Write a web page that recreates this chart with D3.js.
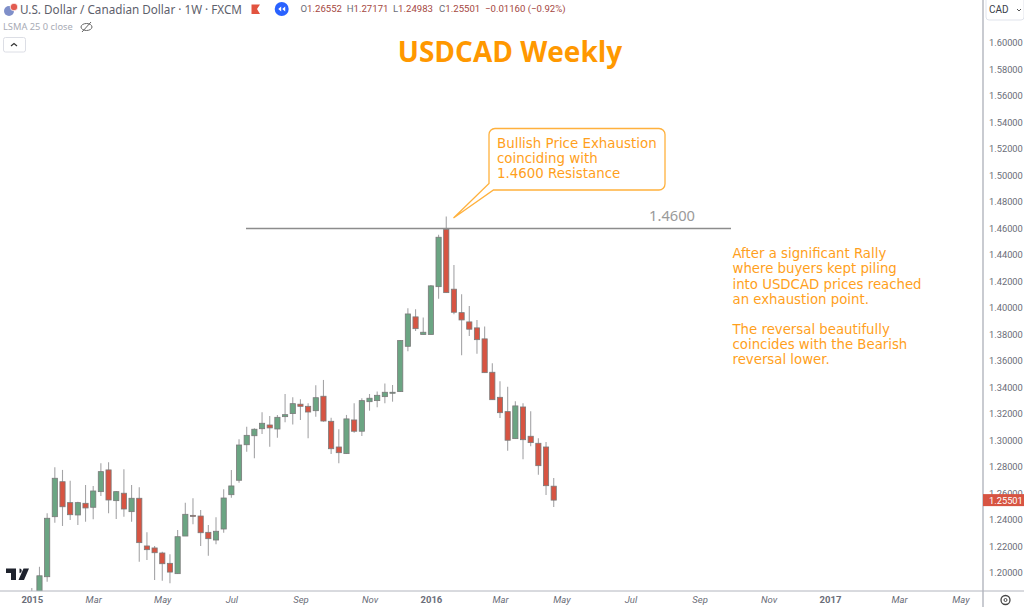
<!DOCTYPE html>
<html>
<head>
<meta charset="utf-8">
<script src="https://cdnjs.cloudflare.com/ajax/libs/d3/7.8.5/d3.min.js"></script>
<style>
  html, body { margin: 0; background: #fff; overflow: hidden; }
  svg { display: block; font-family: "Noto Sans", sans-serif; }
</style>
</head>
<body>
<svg id="chart" width="1024" height="607"></svg>
<script>
// weekly candles. week 0 is the "2015" tick
const opens = [1.172,1.170,1.1972,1.2425,1.2689,1.2531,1.2438,1.2526,1.2496,1.2614,1.2778,1.2546,1.2602,1.2463,1.2564,1.2204,1.2189,1.2151,1.2073,1.1995,1.2279,1.2435,1.2430,1.2307,1.2249,1.2332,1.2591,1.2700,1.2968,1.3036,1.3089,1.3117,1.3087,1.3180,1.3203,1.3274,1.3258,1.3225,1.3334,1.3145,1.2951,1.2901,1.3155,1.3070,1.3293,1.3301,1.3331,1.3357,1.3369,1.3711,1.3933,1.3800,1.3800,1.4161,1.4594,1.4142,1.3965,1.3895,1.3850,1.3767,1.3515,1.3326,1.3218,1.3014,1.3253,1.3032,1.2979,1.2951,1.26552];
const highs = [1.1887,1.2047,1.2451,1.2798,1.2778,1.2697,1.2538,1.2664,1.2657,1.2828,1.2836,1.2619,1.2783,1.2664,1.2647,1.2307,1.2204,1.2161,1.2141,1.2325,1.2531,1.2564,1.2476,1.2362,1.2420,1.2632,1.2778,1.3009,1.3104,1.3092,1.3213,1.3185,1.3193,1.3351,1.3326,1.3311,1.3281,1.3417,1.3457,1.3172,1.3085,1.3193,1.3281,1.3319,1.3351,1.3369,1.3431,1.3419,1.3759,1.3998,1.3991,1.3929,1.4174,1.4552,1.4690,1.4325,1.4104,1.4016,1.3910,1.3860,1.3583,1.3447,1.3406,1.3296,1.3281,1.3221,1.3017,1.2989,1.27171];
const lows = [1.165,1.160,1.1934,1.2380,1.2355,1.2400,1.2362,1.2387,1.2405,1.2581,1.2451,1.2408,1.2425,1.2387,1.2085,1.2098,1.1947,1.1942,1.1922,1.1992,1.2279,1.2368,1.2204,1.2130,1.2217,1.2304,1.2568,1.2682,1.2916,1.2866,1.3049,1.2953,1.3021,1.3138,1.3120,1.3155,1.3017,1.3180,1.3142,1.2898,1.2828,1.2898,1.3059,1.3034,1.3225,1.3251,1.3281,1.3293,1.3366,1.3674,1.3827,1.3800,1.3800,1.4069,1.4116,1.3953,1.3643,1.3789,1.3655,1.3512,1.3308,1.3170,1.2923,1.3014,1.2858,1.2956,1.2742,1.2589,1.24983];
const closes = [1.182,1.1979,1.2413,1.2715,1.2500,1.2440,1.2531,1.2491,1.2619,1.2765,1.2551,1.2614,1.2483,1.2564,1.2229,1.2176,1.2153,1.2070,1.2007,1.2274,1.2443,1.2431,1.2304,1.2259,1.2315,1.2566,1.2657,1.2966,1.3039,1.3085,1.3130,1.3095,1.3175,1.3195,1.3278,1.3258,1.3215,1.3323,1.3147,1.2938,1.2908,1.3163,1.3070,1.3301,1.3319,1.3341,1.3364,1.3364,1.3754,1.3955,1.3844,1.3817,1.4167,1.4534,1.4116,1.3968,1.3910,1.3840,1.3761,1.3512,1.3308,1.3210,1.3002,1.3261,1.3006,1.2984,1.2810,1.2659,1.25501];

const timeTickWeeks = [0,8,17,26,35,44,52,61,69,78,87,96,104,113,121];
const timeTickLabels = ['2015','Mar','May','Jul','Sep','Nov','2016','Mar','May','Jul','Sep','Nov','2017','Mar','May'];
const yearLabels = ['2015','2016','2017'];
const priceTicks = d3.range(1.20, 1.6001, 0.02);
const lastPrice = 1.25501;
const resistance = 1.46;
const ohlcLabels = [['O','1.26552'],['H','1.27171'],['L','1.24983'],['C','1.25501']];
const changeLabel = '\u22120.01160 (\u22120.92%)';
const calloutLines = ['Bullish Price Exhaustion','coinciding with','1.4600 Resistance'];
const noteLines = ['After a significant Rally','where buyers kept piling','into USDCAD prices reached','an exhaustion point.','','The reversal beautifully','coincides with the Bearish','reversal lower.'];

const upColor = '#6ba583', downColor = '#d75442';
const orange = '#ff9f1c', axisGrey = '#b2b5be', textGrey = '#6a6d78';
const smallFont = 'Roboto, sans-serif';
const plotRight = 983, plotBottom = 591;

const svg = d3.select('#chart');

const x = d3.scaleLinear().domain([0, 121]).range([31.8, 960.5]);
const y = d3.scaleLinear().domain([1.20, 1.60]).range([573, 43]);

// candles, clipped to the plot area
svg.append('clipPath').attr('id', 'plot')
  .append('rect').attr('width', plotRight).attr('height', plotBottom);

const candles = svg.append('g').attr('clip-path', 'url(#plot)')
  .selectAll('g').data(opens).join('g')
  .attr('transform', (d, i) => `translate(${x(i)},0)`);

candles.append('line')
  .attr('y1', (d, i) => y(highs[i]))
  .attr('y2', (d, i) => y(lows[i]))
  .attr('stroke', '#a5a5a7')
  .attr('stroke-width', 1.1);

candles.append('rect')
  .attr('x', -2.6)
  .attr('width', 5.2)
  .attr('y', (d, i) => y(Math.max(d, closes[i])))
  .attr('height', (d, i) => Math.max(1, Math.abs(y(d) - y(closes[i]))))
  .attr('fill', (d, i) => closes[i] >= d ? upColor : downColor)
  .attr('stroke', '#7a7a7a')
  .attr('stroke-width', 0.8);

// resistance line
svg.append('line')
  .attr('x1', 246).attr('x2', 731)
  .attr('y1', y(resistance)).attr('y2', y(resistance))
  .attr('stroke', '#8c8c8c').attr('stroke-width', 1.5);
svg.append('text').attr('x', 695).attr('y', 221)
  .attr('text-anchor', 'end').attr('font-size', 14.7).attr('fill', '#9a9a9a')
  .text('1.4600');

// axes
const yAxis = d3.axisRight(y).tickValues(priceTicks).tickSize(0).tickPadding(6)
  .tickFormat(d3.format('.5f'));
const yG = svg.append('g').attr('transform', `translate(${plotRight},0)`).call(yAxis);
yG.select('.domain').remove();
yG.selectAll('text').attr('font-size', 9.3).attr('fill', textGrey).attr('font-family', smallFont);

const xAxis = d3.axisBottom(x).tickValues(timeTickWeeks).tickSize(0).tickPadding(5)
  .tickFormat((d, i) => timeTickLabels[i]);
const xG = svg.append('g').attr('transform', `translate(0,${plotBottom})`).call(xAxis);
xG.select('.domain').remove();
xG.selectAll('text')
  .attr('font-size', 9.5)
  .attr('font-family', smallFont)
  .attr('fill', textGrey)
  .attr('font-style', (d, i) => yearLabels.includes(timeTickLabels[i]) ? 'normal' : 'italic')
  .attr('font-weight', (d, i) => yearLabels.includes(timeTickLabels[i]) ? 'bold' : 'normal');

svg.append('line').attr('x1', 0).attr('x2', 1024).attr('y1', plotBottom).attr('y2', plotBottom)
  .attr('stroke', axisGrey).attr('stroke-width', 1);
svg.append('line').attr('x1', plotRight).attr('x2', plotRight).attr('y1', 0).attr('y2', 607)
  .attr('stroke', axisGrey).attr('stroke-width', 1.4);

// last price tag
svg.append('rect').attr('x', plotRight).attr('y', y(lastPrice) - 6).attr('width', 41).attr('height', 12)
  .attr('fill', downColor);
svg.append('text').attr('x', plotRight + 6).attr('y', y(lastPrice) + 3.4)
  .attr('font-size', 9.3).attr('fill', '#fff').attr('font-family', smallFont)
  .text(d3.format('.5f')(lastPrice));

// currency box and settings gear
svg.append('path').attr('d', 'M986,0V17a3,3 0 0 0 3,3H1021a3,3 0 0 0 3,-3V0')
  .attr('fill', 'none').attr('stroke', '#e0e3eb');
svg.append('text').attr('x', 989).attr('y', 13).attr('font-size', 10).attr('font-family', smallFont).attr('fill', '#3a3d48').text('CAD');
svg.append('path').attr('d', 'M1017,9l2,2l2,-2').attr('fill', 'none').attr('stroke', '#555');
svg.append('circle').attr('cx', 1005.5).attr('cy', 600).attr('r', 4.5).attr('fill', 'none').attr('stroke', '#444').attr('stroke-width', 1.3);
svg.append('circle').attr('cx', 1005.5).attr('cy', 600).attr('r', 1.5).attr('fill', 'none').attr('stroke', '#444');

// header row
svg.append('circle').attr('cx', 9).attr('cy', 11).attr('r', 5).attr('fill', '#7f8fc9');
svg.append('circle').attr('cx', 14).attr('cy', 7).attr('r', 3.8).attr('fill', '#e25b50').attr('stroke', '#fff').attr('stroke-width', 0.8);
svg.append('text').attr('x', 20).attr('y', 14).attr('font-size', 11.7).attr('fill', '#5d606b')
  .text('U.S. Dollar / Canadian Dollar \u00b7 1W \u00b7 FXCM');
svg.append('path').attr('d', 'M251.5,4.5H260L257,9L260,14H251.5Z').attr('fill', '#e2533f');
svg.append('circle').attr('cx', 281.7).attr('cy', 9).attr('r', 7).attr('fill', '#2962ff');
svg.append('path').attr('d', 'M281.2,6.5L278.2,9L281.2,11.5ZM285.2,6.5L282.2,9L285.2,11.5Z').attr('fill', '#fff');

const ohlcXs = d3.range(4).map(i => 300.5 + i * 46.2);
ohlcLabels.forEach(([k, v], i) => {
  const t = svg.append('text').attr('x', ohlcXs[i]).attr('y', 12).attr('font-size', 9.6).attr('font-family', smallFont).attr('fill', '#6a6d78');
  t.append('tspan').text(k);
  t.append('tspan').attr('fill', '#a5483f').text(v);
});
svg.append('text').attr('x', 485).attr('y', 12).attr('font-size', 9.6).attr('font-family', smallFont).attr('fill', '#a5483f').text(changeLabel);

svg.append('text').attr('x', 3).attr('y', 30).attr('font-size', 9.3).attr('fill', '#a8abb5').text('LSMA 25 0 close');
svg.append('ellipse').attr('cx', 86.5).attr('cy', 27).attr('rx', 5.5).attr('ry', 3.5).attr('fill', 'none').attr('stroke', '#666');
svg.append('line').attr('x1', 82).attr('x2', 91).attr('y1', 32).attr('y2', 22).attr('stroke', '#666');
svg.append('rect').attr('x', 3.5).attr('y', 37.5).attr('width', 22).attr('height', 14.5).attr('rx', 2).attr('fill', '#fff').attr('stroke', '#dcdee5');
svg.append('path').attr('d', 'M11,46l3,-2.5l3,2.5').attr('fill', 'none').attr('stroke', '#333').attr('stroke-width', 1.2);

// tradingview mark
svg.append('path').attr('d', 'M6,568.5H16V580H11V573H6ZM19.5,568.5A2.2,2.2 0 1 1 19.5,573ZM23.5,568.5H29L24,580H18.5Z').attr('fill', '#1e222d');

// title
svg.append('text').attr('x', 510).attr('y', 61.5).attr('text-anchor', 'middle')
  .attr('font-family', '"Open Sans", sans-serif')
  .attr('font-size', 28).attr('font-weight', 'bold').attr('fill', '#ff9800')
  .text('USDCAD Weekly');

// callout bubble, tail points at the top of the exhaustion candle
svg.append('path')
  .attr('d', 'M495,128.5H659a6,6 0 0 1 6,6V184a6,6 0 0 1 -6,6H493.5L453.5,218L489,183.5V134.5a6,6 0 0 1 6,-6Z')
  .attr('fill', '#fff').attr('stroke', '#ffb13d').attr('stroke-width', 1.3);
svg.append('g').selectAll('text').data(calloutLines).join('text')
  .attr('x', 497).attr('y', (d, i) => 148 + i * 15.2)
  .attr('font-family', '"DejaVu Sans", sans-serif')
  .attr('font-size', 13.4).attr('fill', orange).text(d => d);

// side note
svg.append('g').selectAll('text').data(noteLines).join('text')
  .attr('x', 732.5).attr('y', (d, i) => 258.3 + i * 15.15)
  .attr('font-family', '"DejaVu Sans", sans-serif')
  .attr('font-size', 13.3).attr('fill', orange).text(d => d);
</script>
</body>
</html>
